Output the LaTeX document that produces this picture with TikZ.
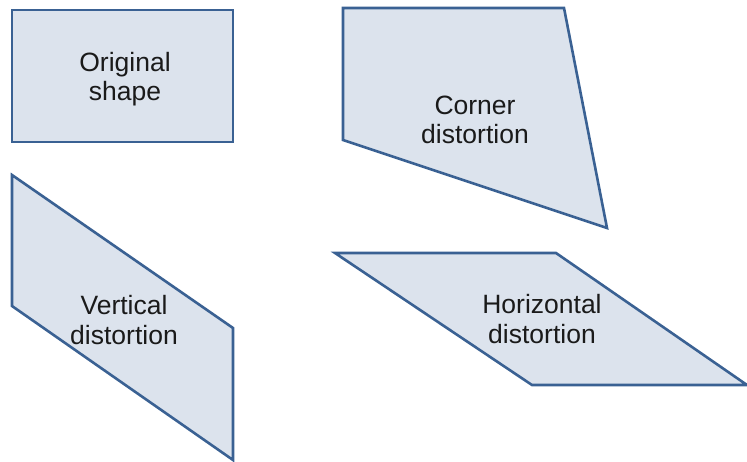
\documentclass[tikz,border=0pt]{standalone}
\usepackage{fontspec}
\setmainfont{Liberation Sans}
\definecolor{shapefill}{HTML}{DCE3ED}
\definecolor{shapeline}{HTML}{3A6193}
\definecolor{labeltext}{HTML}{1A1A1A}
\tikzset{
  distshape/.style={draw=shapeline, fill=shapefill, line width=2.6pt, line join=miter},
  label text/.style={text=labeltext, align=center, font=\fontsize{26.5}{29.5}\selectfont, inner sep=0pt}
}
\begin{document}
\begin{tikzpicture}[x=1pt,y=-1pt]
\useasboundingbox (0,0) rectangle (747,461);
% Original shape
\draw[distshape] (12,10) -- (233,10) -- (233,142) -- (12,142) -- cycle;
% Corner distortion
\draw[distshape] (343,8) -- (564,8) -- (607,228) -- (343,140) -- cycle;
% Vertical distortion
\draw[distshape] (12,175) -- (233,328) -- (233,460) -- (12,306) -- cycle;
% Horizontal distortion
\draw[distshape] (335,253) -- (556,253) -- (747,385) -- (532,385) -- cycle;
% labels
\node[label text] (orig) at (125,79) {Original\\shape};
\node[label text] (corner) at (475,120) {Corner\\distortion};
\node[label text] (vert) at (124,320) {Vertical\\distortion};
\node[label text] (horiz) at (542,319) {Horizontal\\distortion};
\end{tikzpicture}
\end{document}
